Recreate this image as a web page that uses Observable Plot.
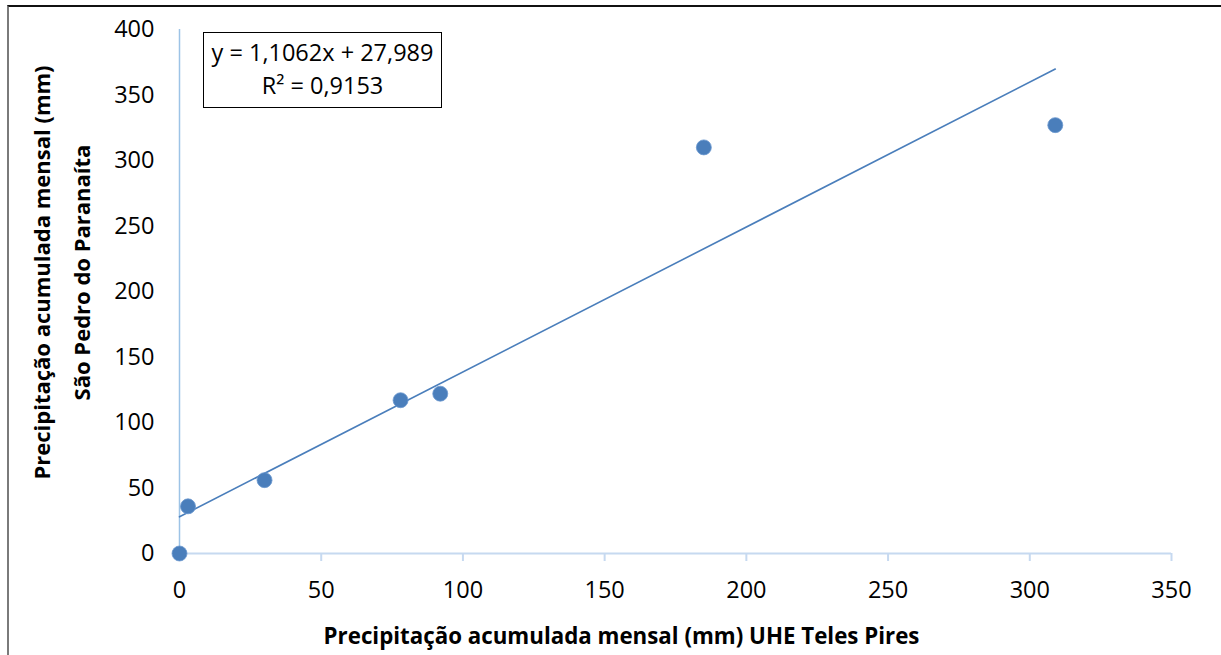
<!DOCTYPE html>
<html>
<head>
<meta charset="utf-8">
<script src="https://cdn.jsdelivr.net/npm/d3@7"></script>
<script src="https://cdn.jsdelivr.net/npm/@observablehq/plot@0.6"></script>
<style>
  html, body { margin: 0; padding: 0; background: #fff; }
  #wrap { position: relative; width: 1221px; height: 655px; overflow: hidden; font-family: "Open Sans", sans-serif; }
  #frame { position: absolute; left: 7px; top: 5px; right: -5px; bottom: -5px; border-top: 2px solid #111; border-left: 2px solid #7a7a7a; }
  #chart { position: absolute; left: 0; top: 0; }
  #eq { position: absolute; left: 203px; top: 32px; width: 237px; height: 71px; border: 1.5px solid #000; background: #fff;
        font-family: "Open Sans", sans-serif; font-size: 23.5px; line-height: 33px; text-align: center; color: #000; padding-top: 3px; box-sizing: content-box; white-space: nowrap; }
</style>
</head>
<body>
<div id="wrap">
  <div id="frame"></div>
  <div id="chart"></div>
  <div id="eq"></div>
</div>
<script>
// Data
const tetesPires = [0, 3, 30, 78, 92, 185, 309];      // x: UHE Teles Pires (mm)
const saoPedro   = [0, 36, 56, 117, 122, 310, 327];   // y: São Pedro do Paranaíta (mm)
const xTicks = [0, 50, 100, 150, 200, 250, 300, 350];
const yTicks = [0, 50, 100, 150, 200, 250, 300, 350, 400];
const slope = 1.1062;
const intercept = 27.989;
const r2 = 0.9153;
const xTitle = "Precipitação acumulada mensal (mm) UHE Teles Pires";
const yTitleLines = ["Precipitação acumulada mensal (mm)", "São Pedro do Paranaíta"];

const points = tetesPires.map((x, i) => ({x, y: saoPedro[i]}));
const xMin = d3.min(tetesPires), xMax = d3.max(tetesPires);
const trend = [xMin, xMax].map(x => ({x, y: slope * x + intercept}));

const fmt = v => String(v).replace(".", ",");
document.getElementById("eq").innerHTML =
  `y = ${fmt(slope)}x + ${fmt(intercept)}<br>R² = ${fmt(r2)}`;

const font = '"Open Sans", sans-serif';
const chart = Plot.plot({
  width: 1221,
  height: 655,
  marginLeft: 179,
  marginRight: 50,
  marginTop: 29,
  marginBottom: 102,
  style: { fontFamily: font, fontSize: "23px", color: "#000", background: "transparent", overflow: "visible" },
  x: { domain: [0, 350] },
  y: { domain: [0, 400] },
  marks: [
    Plot.ruleY([0], { stroke: "#c6d9f0", strokeWidth: 2 }),
    Plot.ruleX([0], { stroke: "#9dc3e6", strokeWidth: 1.5 }),
    Plot.axisX({ ticks: xTicks, tickSize: 8, tickPadding: 20, stroke: "#c6d9f0", strokeWidth: 2, fill: "#000", label: null, tickFormat: d => d, fontSize: 23.5 }),
    Plot.axisY({ ticks: yTicks, tickSize: 0, tickPadding: 25, fill: "#000", label: null, tickFormat: d => d, fontSize: 23.5 }),
    Plot.line(trend, { x: "x", y: "y", stroke: "#4a7ebb", strokeWidth: 1.6 }),
    Plot.dot(points, { x: "x", y: "y", r: 7.5, fill: "#4a7ebb", stroke: "#6b98cf", strokeWidth: 0.8 }),
    Plot.text([xTitle], { frameAnchor: "bottom", dx: -54, dy: 83, text: d => d, fontWeight: "bold", fontSize: 22.3, lineAnchor: "middle", fill: "#000" }),
    Plot.text([yTitleLines.join("\n")], { frameAnchor: "left", dx: -122, dy: -19, rotate: -90, text: d => d, fontWeight: "bold", fontSize: 22, lineHeight: 1.8, lineAnchor: "middle", textAnchor: "middle", fill: "#000" })
  ]
});
document.getElementById("chart").appendChild(chart);
</script>
</body>
</html>
